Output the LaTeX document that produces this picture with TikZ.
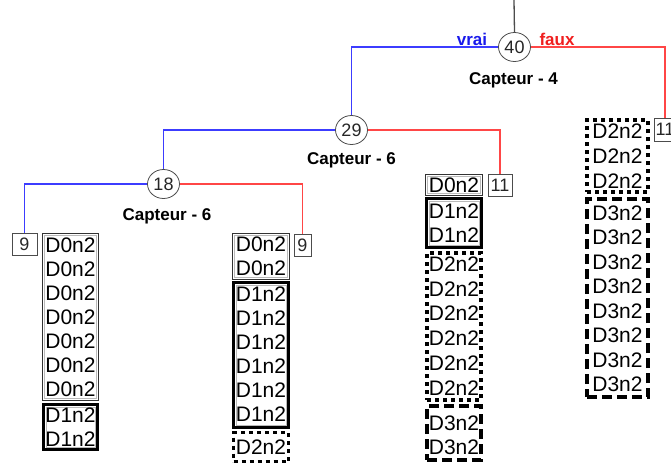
\documentclass[tikz,border=0pt]{standalone}
\usepackage{fontspec}
\setmainfont{Liberation Sans}
\usetikzlibrary{shapes.geometric,calc,fit}
\definecolor{lblue}{RGB}{60,60,255}
\definecolor{lred}{RGB}{255,70,70}
\definecolor{tblue}{RGB}{25,25,235}
\definecolor{tred}{RGB}{240,30,30}
\newcommand\ingray[2]{\draw[gray!55, line width=0.8pt] ($(#1.north west)+(#2,#2)$) rectangle ($(#1.south east)+(-#2,-#2)$);}
\begin{document}
\begin{tikzpicture}[x=1pt,y=-1pt,
  dnode/.style={ellipse, draw=black!70, line width=0.8pt, minimum width=32pt, minimum height=29pt, inner sep=0pt, font=\fontsize{18}{18}\selectfont, text=black!85, fill=white},
  numbox/.style={draw=black!70, line width=0.8pt, minimum height=22pt, inner sep=0pt, font=\fontsize{18}{18}\selectfont, text=black!85},
  dtxt/.style={inner sep=0pt, font=\fontsize{21}{21}\selectfont},
  captxt/.style={inner sep=0pt, font=\bfseries\fontsize{17}{17}\selectfont},
  grp/.style={inner sep=0pt, outer sep=0pt},
  gzero/.style={grp, draw=black!80, line width=0.8pt},
  gone/.style={grp, draw=black, line width=3pt},
  gtwo/.style={grp, draw=black, line width=3.5pt, dash pattern=on 4pt off 4pt},
  gthree/.style={grp, draw=black, line width=3.5pt, dash pattern=on 10pt off 5pt},
  bl/.style={draw=lblue, line width=1.3pt},
  rl/.style={draw=lred, line width=1.3pt}
]
\useasboundingbox (0,0) rectangle (671,464);

% decision nodes
\node[dnode] (n40) at (514.5,47) {40};
\node[dnode] (n29) at (351.5,130) {29};
\node[dnode] (n18) at (163.5,184) {18};

% count boxes
\node[numbox, minimum width=25pt] (b9l) at (24.5,244.5) {9};
\node[numbox, minimum width=17pt] (b9r) at (302.5,245.5) {9};
\node[numbox, minimum width=24pt] (b11m) at (500,185.5) {11};
\node[numbox, minimum width=22pt, minimum height=23pt] (b11r) at (665,129.5) {11};

% connectors
\coordinate (top) at (514,0);
\draw[draw=black!70, line width=1.3pt] (top) -- (n40.north);
\draw[bl] (n40.west) -| (n29.north);
\draw[rl] (n40.east) -| (b11r.north);
\draw[bl] (n29.west) -| (n18.north);
\draw[rl] (n29.east) -| (b11m.north);
\draw[bl] (n18.west) -| (b9l.north);
\draw[rl] (n18.east) -| (b9r.north);

% labels
\node[captxt, text=tblue] (vrai) at (472,39) {vrai};
\node[captxt, text=tred] (faux) at (557,39) {faux};
\node[captxt] (c4) at (513.5,80) {Capteur - 4};
\node[captxt] (c6a) at (351.5,160) {Capteur - 6};
\node[captxt] (c6b) at (167,216.5) {Capteur - 6};

% left column
\node[gzero, fit={(42.5,233.5) (98.5,400.5)}] (La) {};
\ingray{La}{1.8}
\node[gone, fit={(43.5,404.5) (97.5,449.5)}] (Lb) {};
\ingray{Lb}{2.6}
\foreach \y [count=\i] in {245,269,293,317,341,365,389}
  \node[dtxt] (la\i) at (70.5,\y) {D0n2};
\foreach \y [count=\i] in {415,439}
  \node[dtxt] (lb\i) at (70.5,\y) {D1n2};

% middle-left column
\node[gzero, fit={(232.5,233.5) (289.5,279.5)}] (Ma) {};
\ingray{Ma}{1.8}
\node[gone, fit={(233.5,282.5) (288.5,427.5)}] (Mb) {};
\ingray{Mb}{2.6}
\node[gtwo, fit={(233.5,432.5) (288.5,461.5)}] (Mc) {};
\foreach \y [count=\i] in {244,268}
  \node[dtxt] (ma\i) at (261,\y) {D0n2};
\foreach \y [count=\i] in {294,318,342,366,390,414}
  \node[dtxt] (mb\i) at (261,\y) {D1n2};
\node[dtxt] (mc1) at (261,447) {D2n2};

% middle-right column
\node[gzero, fit={(425.5,174.5) (482.5,195.5)}] (Na) {};
\ingray{Na}{1.8}
\node[gone, fit={(426.5,198.5) (481.5,247.5)}] (Nb) {};
\ingray{Nb}{2.6}
\node[gtwo, fit={(427,253) (481,400)}] (Nc) {};
\node[gthree, fit={(427,406) (481,460)}] (Nd) {};
\node[dtxt] (na1) at (454,185) {D0n2};
\foreach \y [count=\i] in {211,235}
  \node[dtxt] (nb\i) at (454,\y) {D1n2};
\foreach \y [count=\i] in {264,289,313,338,363,388}
  \node[dtxt] (nc\i) at (454,\y) {D2n2};
\foreach \y [count=\i] in {423,447}
  \node[dtxt] (nd\i) at (454,\y) {D3n2};

% right column
\node[gtwo, fit={(587,120) (648,192)}] (Ra) {};
\node[gthree, fit={(587,199) (648,397)}] (Rb) {};
\foreach \y [count=\i] in {131,156,181}
  \node[dtxt] (ra\i) at (617.5,\y) {D2n2};
\foreach \y [count=\i] in {213,237,262,286,311,335,360,384}
  \node[dtxt] (rb\i) at (617.5,\y) {D3n2};
\end{tikzpicture}
\end{document}
